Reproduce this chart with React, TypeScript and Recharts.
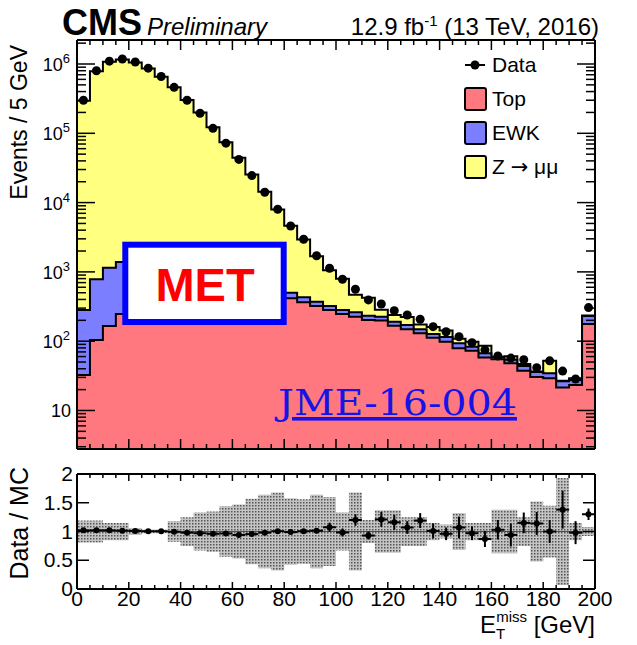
import React from 'react';
import { ComposedChart, Area, Scatter, XAxis, YAxis, ReferenceLine, ErrorBar } from 'recharts';

const FONT = '"Liberation Sans", Arial, Helvetica, sans-serif';

// 5 GeV bins, lower edges
const binLo = [0, 5, 10, 15, 20, 25, 30, 35, 40, 45, 50, 55, 60, 65, 70, 75, 80, 85, 90, 95,
  100, 105, 110, 115, 120, 125, 130, 135, 140, 145, 150, 155, 160, 165, 170, 175, 180, 185, 190, 195];

const dataEvents = [3.0e5, 8.0e5, 1.1e6, 1.18e6, 1.07e6, 8.7e5, 6.6e5, 4.6e5, 3.0e5, 1.95e5,
  1.18e5, 7.2e4, 4.2e4, 2.45e4, 1.41e4, 8000, 4600, 2960, 1710, 1130,
  782, 561, 394, 344, 276, 239, 207, 162, 137, 116,
  95, 75, 61, 57, 54, 41.5, 52, 37, 28.5, 305];

const topEvents = [32.5, 104, 166, 247, 300, 350, 400, 440, 470, 490,
  500, 505, 500, 485, 465, 440, 416, 364, 322, 282,
  247, 226, 202, 198, 167, 149, 130, 112, 98, 79,
  73, 58, 55, 48, 37.5, 30.5, 29.2, 21.5, 23.3, 177];

const ewkEvents = [250, 677, 985, 1140, 1000, 800, 600, 430, 300, 220,
  170, 140, 120, 105, 95, 90, 85, 66, 50, 40,
  35, 35, 31, 28, 24, 22, 19, 15, 17, 14,
  10, 9, 4, 6, 6.5, 5.5, 5.2, 5, 4.2, 54];

const zmmEvents = [293800, 783500, 1077300, 1161200, 1052900, 860200, 652500, 459100, 302300, 199300,
  121600, 73580, 43820, 24930, 13760, 7390, 4120, 2500, 1304, 730,
  514, 206, 191, 58, 47, 52, 25, 33, 28, 15.4,
  14.9, 19.2, 0.5, 6.6, 3, 0.4, 17.6, 0.3, 1.6, 3.6];

const ratioValues = [1.02, 1.02, 1.02, 1.015, 1.01, 1.005, 1.005, 0.995, 0.98, 0.97,
  0.96, 0.965, 0.94, 0.955, 0.98, 1.005, 0.99, 1.005, 1.015, 1.074,
  0.983, 1.2, 0.93, 1.21, 1.16, 1.07, 1.19, 1.01, 0.96, 1.07,
  0.97, 0.87, 1.03, 0.94, 1.15, 1.14, 1.0, 1.38, 0.98, 1.3];

const ratioErr = [0.005, 0.005, 0.005, 0.005, 0.005, 0.005, 0.005, 0.005, 0.008, 0.008,
  0.008, 0.008, 0.01, 0.01, 0.015, 0.015, 0.03, 0.03, 0.03, 0.08,
  0.07, 0.1, 0.07, 0.13, 0.13, 0.11, 0.13, 0.13, 0.11, 0.19,
  0.12, 0.14, 0.17, 0.2, 0.18, 0.2, 0.2, 0.33, 0.2, 0.1];

const mcUnc = [0.19, 0.19, 0.15, 0.15, 0.06, 0.03, 0.03, 0.18, 0.25, 0.33,
  0.35, 0.44, 0.47, 0.57, 0.64, 0.68, 0.58, 0.56, 0.64, 0.6,
  0.33, 0.68, 0.2, 0.37, 0.37, 0.25, 0.25, 0.15, 0.12, 0.32,
  0.15, 0.15, 0.38, 0.38, 0.25, 0.52, 0.45, 0.93, 0.15, 0.08];

const BIN_W = 5;
const X_MAX = 200;
const Y_MIN = 2.78;
const Y_MAX = 2.22e6;

const RED = '#ff7880';
const BLUE = '#7a7eff';
const YELLOW = '#ffff80';

// stacked histogram rows at bin edges (last edge repeats last bin for the step)
const histRows = binLo.map((lo, i) => ({
  x: lo,
  top: topEvents[i],
  ewk: topEvents[i] + ewkEvents[i],
  all: topEvents[i] + ewkEvents[i] + zmmEvents[i],
}));
histRows.push({ ...histRows[histRows.length - 1], x: X_MAX });

const dataPoints = binLo.map((lo, i) => ({ x: lo + BIN_W / 2, y: dataEvents[i] }));

const bandRows = binLo.map((lo, i) => ({ x: lo, band: [1 - mcUnc[i], 1 + mcUnc[i]] }));
bandRows.push({ ...bandRows[bandRows.length - 1], x: X_MAX });

const ratioPoints = binLo.map((lo, i) => ({
  x: lo + BIN_W / 2,
  y: ratioValues[i],
  ey: ratioErr[i],
  ex: BIN_W / 2,
}));

const xTicks = [...binLo, X_MAX];
const logTicks: number[] = [];
for (let e = 0; e <= 6; e++) {
  for (let k = 1; k <= 9; k++) {
    const v = k * Math.pow(10, e);
    if (v >= Y_MIN && v <= Y_MAX) logTicks.push(v);
  }
}
const ratioTicks = [0, 0.5, 1, 1.5, 2];

const makeXTick = (dir: number, major: number, minor: number, labels: boolean) => (p: any) => {
  const v = p.payload.value;
  const isMajor = v % 20 === 0;
  return (
    <g>
      <line x1={p.x} x2={p.x} y1={p.y} y2={p.y + dir * (isMajor ? major : minor)} stroke="#000" strokeWidth={1.5} />
      {labels && isMajor && (
        <text x={p.x} y={p.y + 17} textAnchor="middle" fontSize={21} fontFamily={FONT} fill="#000">{v}</text>
      )}
    </g>
  );
};

const makeLogTick = (dir: number, labels: boolean) => (p: any) => {
  const v = p.payload.value;
  const s = String(v);
  const isMajor = /^10+$/.test(s);
  const exp = s.length - 1;
  return (
    <g>
      <line x1={p.x} x2={p.x + dir * (isMajor ? 18 : 9)} y1={p.y} y2={p.y} stroke="#000" strokeWidth={1.5} />
      {labels && isMajor && (exp === 1 ? (
        <text x={p.x - 6} y={p.y + 7} textAnchor="end" fontSize={18} fontFamily={FONT} fill="#000">10</text>
      ) : (
        <text x={p.x - 7} y={p.y + 7} textAnchor="end" fontSize={18} fontFamily={FONT} fill="#000">
          10<tspan dy={-8} fontSize={13}>{exp}</tspan>
        </text>
      ))}
    </g>
  );
};

const makeRatioYTick = (dir: number, labels: boolean) => (p: any) => {
  const v = p.payload.value;
  return (
    <g>
      <line x1={p.x} x2={p.x + dir * 12} y1={p.y} y2={p.y} stroke="#000" strokeWidth={1.5} />
      {labels && (
        <text x={p.x - 4} y={p.y + 7} textAnchor="end" fontSize={21} fontFamily={FONT} fill="#000">{v}</text>
      )}
    </g>
  );
};

const DataDot = (p: any) => <circle cx={p.cx} cy={p.cy} r={4.5} fill="#000" />;
const RatioDot = (p: any) => <circle cx={p.cx} cy={p.cy} r={3} fill="#000" />;

const axisLine = { stroke: '#000', strokeWidth: 2 };

export default function App() {
  return (
    <div style={{ position: 'absolute', left: 0, top: 0, width: 637, height: 645, background: '#fff', fontFamily: FONT }}>
      <div style={{ position: 'absolute', left: 0, top: 0 }}>
        <ComposedChart width={637} height={460} data={histRows} margin={{ top: 39, right: 41, bottom: 10, left: 76 }}>
          <XAxis dataKey="x" type="number" domain={[0, X_MAX]} allowDataOverflow ticks={xTicks} interval={0}
            height={1} tickSize={0} tickMargin={0} axisLine={axisLine} tick={makeXTick(-1, 10, 5, false)} />
          <XAxis xAxisId="t" orientation="top" dataKey="x" type="number" domain={[0, X_MAX]} allowDataOverflow ticks={xTicks}
            interval={0} height={1} tickSize={0} tickMargin={0} axisLine={axisLine} tick={makeXTick(1, 10, 5, false)} />
          <YAxis dataKey="y" type="number" scale="log" domain={[Y_MIN, Y_MAX]} allowDataOverflow ticks={logTicks} interval={0}
            width={1} tickSize={0} tickMargin={0} axisLine={axisLine} tick={makeLogTick(1, true)} />
          <YAxis yAxisId="r" orientation="right" type="number" scale="log" domain={[Y_MIN, Y_MAX]} allowDataOverflow ticks={logTicks}
            interval={0} width={1} tickSize={0} tickMargin={0} axisLine={axisLine} tick={makeLogTick(-1, false)} />
          <Area type="stepAfter" dataKey="all" fill={YELLOW} fillOpacity={1} stroke="#000" strokeWidth={2}
            dot={false} activeDot={false} isAnimationActive={false} />
          <Area type="stepAfter" dataKey="ewk" fill={BLUE} fillOpacity={1} stroke="#000" strokeWidth={2}
            dot={false} activeDot={false} isAnimationActive={false} />
          <Area type="stepAfter" dataKey="top" fill={RED} fillOpacity={1} stroke="#000" strokeWidth={2}
            dot={false} activeDot={false} isAnimationActive={false} />
          <Scatter data={dataPoints} dataKey="y" shape={DataDot} isAnimationActive={false} />
        </ComposedChart>
      </div>

      <div style={{ position: 'absolute', left: 0, top: 460 }}>
        <ComposedChart width={637} height={185} data={bandRows} margin={{ top: 13, right: 41, bottom: 55, left: 76 }}>
          <defs>
            <pattern id="mcdots" width="3" height="3" patternUnits="userSpaceOnUse">
              <rect width="3" height="3" fill="#c4c4c4" />
              <rect width="1.5" height="1.5" fill="#555555" />
            </pattern>
          </defs>
          <XAxis dataKey="x" type="number" domain={[0, X_MAX]} allowDataOverflow ticks={xTicks} interval={0}
            height={1} tickSize={0} tickMargin={0} axisLine={axisLine} tick={makeXTick(-1, 7, 4, true)} />
          <XAxis xAxisId="t" orientation="top" dataKey="x" type="number" domain={[0, X_MAX]} allowDataOverflow ticks={xTicks}
            interval={0} height={1} tickSize={0} tickMargin={0} axisLine={axisLine} tick={makeXTick(1, 7, 4, false)} />
          <YAxis dataKey="y" type="number" domain={[0, 2]} allowDataOverflow ticks={ratioTicks} interval={0}
            width={1} tickSize={0} tickMargin={0} axisLine={axisLine} tick={makeRatioYTick(1, true)} />
          <YAxis yAxisId="r" orientation="right" type="number" domain={[0, 2]} allowDataOverflow ticks={ratioTicks}
            interval={0} width={1} tickSize={0} tickMargin={0} axisLine={axisLine} tick={makeRatioYTick(-1, false)} />
          <Area type="stepAfter" dataKey="band" fill="url(#mcdots)" fillOpacity={1} stroke="none"
            dot={false} activeDot={false} isAnimationActive={false} />
          <ReferenceLine y={1} stroke="#ff0000" strokeWidth={1} />
          <Scatter data={ratioPoints} dataKey="y" shape={RatioDot} isAnimationActive={false}>
            <ErrorBar dataKey="ey" direction="y" width={0} stroke="#000" strokeWidth={2} />
            <ErrorBar dataKey="ex" direction="x" width={0} stroke="#000" strokeWidth={2} />
          </Scatter>
        </ComposedChart>
      </div>

      <svg width={637} height={645} style={{ position: 'absolute', left: 0, top: 0, pointerEvents: 'none' }} fontFamily={FONT}>
        <text x={62} y={35} fontSize={36} fontWeight="bold">CMS</text>
        <text x={147} y={35} fontSize={24} fontStyle="italic">Preliminary</text>
        <text x={599} y={35} fontSize={24} textAnchor="end">
          12.9 fb<tspan dy={-9} fontSize={15}>-1</tspan><tspan dy={9}> (13 TeV, 2016)</tspan>
        </text>

        <text transform="translate(27,45) rotate(-90)" fontSize={23} textAnchor="end">Events / 5 GeV</text>
        <text transform="translate(28,467) rotate(-90)" fontSize={25} textAnchor="end">Data / MC</text>
        <text x={595} y={633} fontSize={24} textAnchor="end">
          E<tspan dy={6} fontSize={15}>T</tspan><tspan dx={-9} dy={-17} fontSize={15}>miss</tspan><tspan dy={11}> [GeV]</tspan>
        </text>

        <line x1={465} x2={485} y1={65} y2={65} stroke="#000" strokeWidth={2} />
        <circle cx={475} cy={65} r={4.5} fill="#000" />
        <text x={492} y={72} fontSize={21}>Data</text>
        <rect x={465} y={88} width={21} height={22} rx={2} fill={RED} stroke="#000" strokeWidth={2} />
        <text x={492} y={106} fontSize={21}>Top</text>
        <rect x={465} y={122} width={21} height={22} rx={2} fill={BLUE} stroke="#000" strokeWidth={2} />
        <text x={492} y={140} fontSize={21}>EWK</text>
        <rect x={465} y={156} width={21} height={22} rx={2} fill={YELLOW} stroke="#000" strokeWidth={2} />
        <text x={492} y={174} fontSize={21}>
          Z <tspan fontFamily='"DejaVu Sans", sans-serif'>→</tspan> μμ
        </text>

        <rect x={125.3} y={244.7} width={158.4} height={77.3} fill="#fff" stroke="#0000ff" strokeWidth={6} />
        <text x={205} y={301} fontSize={47} fontWeight="bold" fill="#ff0000" textAnchor="middle">MET</text>

        <text x={278} y={415} fontSize={36} fontFamily='"DejaVu Serif", "Liberation Serif", serif' fill="#1414e6"
          textLength={239} lengthAdjust="spacingAndGlyphs" style={{ textDecoration: 'underline' }}>JME-16-004</text>
      </svg>
    </div>
  );
}
